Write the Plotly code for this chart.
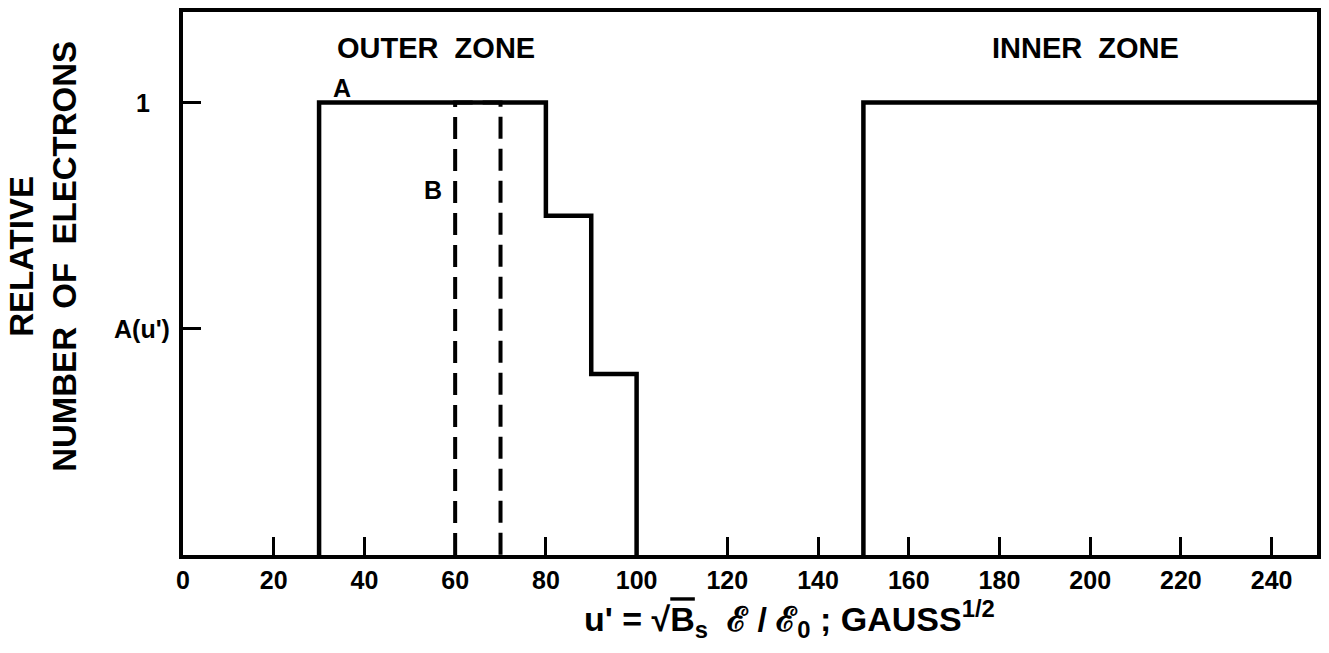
import plotly.graph_objects as go

# Outer zone, spectrum A: stepped profile in u'
a_u = [30, 30, 80, 80, 90, 90, 100, 100]
a_n = [0, 1, 1, 0.75, 0.75, 0.4, 0.4, 0]

# Outer zone, spectrum B: band between u' = 60 and 70
b_u = [60, 60, 70, 70]
b_n = [0, 1, 1, 0]

# Inner zone: flat from u' = 150 to the end of the axis
inner_u = [150, 150, 250]
inner_n = [0, 1, 1]

# Axis ticks
x_ticks = [0, 20, 40, 60, 80, 100, 120, 140, 160, 180, 200, 220, 240]
y_ticks = [0.5, 1]
y_tick_text = ["A(u')", "1"]

# Zone headings and curve labels (text, u', relative number)
zone_text = ["OUTER  ZONE", "INNER  ZONE"]
zone_u = [55.8, 199]
zone_n = [1.12, 1.12]
curve_text = ["A", "B"]
curve_u = [35.1, 55.1]
curve_n = [1.033, 0.807]

FONT = "Liberation Sans"
INK = "black"

fig = go.Figure()

fig.add_trace(go.Scatter(
    x=b_u, y=b_n, mode="lines",
    line=dict(color=INK, width=4, dash="22px,10px"),
    hoverinfo="skip", showlegend=False,
))
fig.add_trace(go.Scatter(
    x=a_u, y=a_n, mode="lines",
    line=dict(color=INK, width=4.5),
    hoverinfo="skip", showlegend=False,
))
fig.add_trace(go.Scatter(
    x=inner_u, y=inner_n, mode="lines",
    line=dict(color=INK, width=4.5),
    hoverinfo="skip", showlegend=False,
))

annotations = []
for t, xv, yv in zip(zone_text, zone_u, zone_n):
    annotations.append(dict(
        x=xv, y=yv, xref="x", yref="y", text=t, showarrow=False,
        xanchor="center", yanchor="middle",
        font=dict(family=FONT, size=29, color=INK, weight="bold"),
    ))
for t, xv, yv in zip(curve_text, curve_u, curve_n):
    annotations.append(dict(
        x=xv, y=yv, xref="x", yref="y", text=t, showarrow=False,
        xanchor="center", yanchor="middle",
        font=dict(family=FONT, size=25, color=INK, weight="bold"),
    ))

# y tick labels set beside the inside tick marks
label_shift = {"A(u')": -11, "1": -31}
for t, yv in zip(y_tick_text, y_ticks):
    annotations.append(dict(
        x=0, y=yv, xref="paper", yref="y", text=t, showarrow=False,
        xanchor="right", yanchor="middle", xshift=label_shift[t],
        font=dict(family=FONT, size=25, color=INK, weight="bold"),
    ))

# axis titles
annotations.append(dict(
    x=-0.123, y=0.55, xref="paper", yref="paper",
    text="RELATIVE<br>NUMBER  OF  ELECTRONS", textangle=-90,
    showarrow=False, xanchor="center", yanchor="middle", align="center",
    font=dict(family=FONT, size=33, color=INK, weight="bold"),
))
annotations.append(dict(
    x=0.535, y=-0.118, xref="paper", yref="paper",
    text=("u' = \u221a<span style='text-decoration:overline'>B</span><sub>s</sub>"
          "  \u2130 / \u2130<sub>0</sub> ; GAUSS<sup>1/2</sup>"),
    showarrow=False, xanchor="center", yanchor="middle",
    font=dict(family=FONT, size=34, color=INK, weight="bold"),
))

fig.update_layout(
    width=1329, height=653,
    margin=dict(l=183, r=8, t=10, b=98),
    paper_bgcolor="white", plot_bgcolor="white",
    annotations=annotations,
    showlegend=False,
)
fig.update_xaxes(
    range=[0, 250], tickvals=x_ticks, ticktext=[str(v) for v in x_ticks],
    ticks="inside", ticklen=18, tickwidth=3, tickcolor=INK,
    showline=True, linewidth=3.5, linecolor=INK, mirror=True,
    showgrid=False, zeroline=False,
    tickfont=dict(family=FONT, size=25, color=INK, weight="bold"),
)
fig.update_yaxes(
    range=[0, 1.2], tickvals=y_ticks, showticklabels=False,
    ticks="inside", ticklen=18, tickwidth=3, tickcolor=INK,
    showline=True, linewidth=3.5, linecolor=INK, mirror=True,
    showgrid=False, zeroline=False,
)

fig.write_html("out.html")
